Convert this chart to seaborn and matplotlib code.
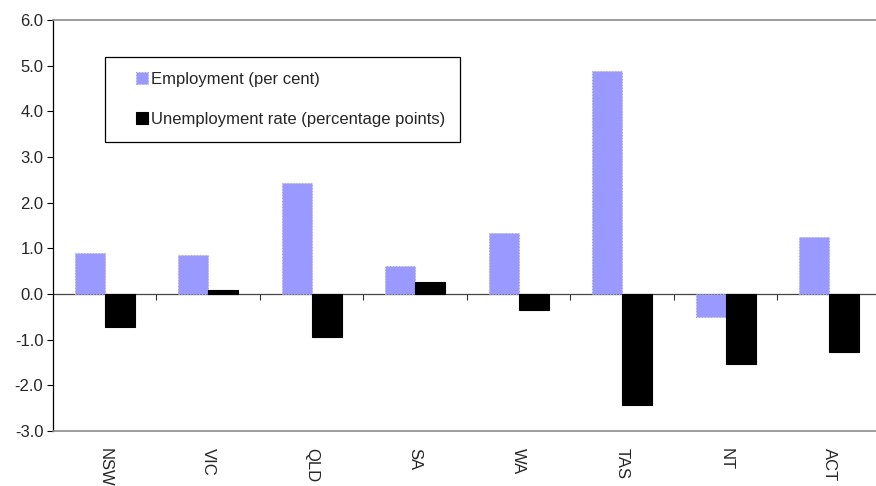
import numpy as np
import pandas as pd
import matplotlib
matplotlib.use('Agg')
import matplotlib.pyplot as plt
from matplotlib.patches import Rectangle
from matplotlib.legend_handler import HandlerPatch
import seaborn as sns


states = ['NSW', 'VIC', 'QLD', 'SA', 'WA', 'TAS', 'NT', 'ACT']
employment = [0.90, 0.85, 2.42, 0.61, 1.33, 4.89, -0.51, 1.24]
unemployment = [-0.73, 0.09, -0.94, 0.27, -0.36, -2.42, -1.54, -1.26]
series_names = ['Employment (per cent)', 'Unemployment rate (percentage points)']

df = pd.DataFrame({
    'state': states * 2,
    'value': employment + unemployment,
    'series': [series_names[0]] * len(states) + [series_names[1]] * len(states),
})

sns.set_style('white')
plt.rcParams['font.family'] = ['Liberation Sans', 'DejaVu Sans']

fig = plt.figure(figsize=(8.76, 4.86), dpi=100)
ax = fig.add_axes([0.0605, 0.1132, 0.9452, 0.8456])

colors = ['#9999ff', '#000000']
sns.barplot(data=df, x='state', y='value', hue='series', order=states,
            hue_order=series_names, palette=colors, width=0.58, gap=0,
            saturation=1, legend=False, ax=ax)

# employment bars get the dotted grey edge, unemployment plain black
n = len(states)
for i, bar in enumerate(ax.patches[:2 * n]):
    if i < n:
        bar.set_edgecolor('#b0b0b0')
        bar.set_linestyle(':')
        bar.set_linewidth(0.8)
    else:
        bar.set_edgecolor('black')
        bar.set_linewidth(0.8)

ax.set_xlim(-0.5, len(states) - 0.5)
ax.set_ylim(-3, 6)
ax.set_yticks(np.arange(-3, 7, 1))
ax.set_yticklabels([f'{v:.1f}' for v in np.arange(-3, 7, 1)])
ax.set_xlabel('')
ax.set_ylabel('')
ax.set_xticks(range(len(states)))
ax.set_xticklabels(states, rotation=270, va='top', ha='center')
ax.tick_params(axis='x', length=0, pad=12, labelsize=12)
ax.tick_params(axis='y', direction='out', length=4, width=0.8, pad=3,
               labelsize=12, left=True, color='black')

for side in ['top', 'bottom', 'right']:
    ax.spines[side].set_color('#8c8c8c')
    ax.spines[side].set_linewidth(1.2)
ax.spines['left'].set_color('black')
ax.spines['left'].set_linewidth(0.9)

# category axis crossing at zero with ticks between states
zero_frac = (0 - (-3)) / (6 - (-3))
sec = ax.secondary_xaxis(zero_frac)
sec.set_xticks(np.arange(0.5, len(states) - 0.5, 1))
sec.tick_params(axis='x', direction='out', length=4, width=0.8,
                labelbottom=False, color='#333333')
sec.spines['bottom'].set_color('#444444')
sec.spines['bottom'].set_linewidth(0.9)


def square_right(legend, orig_handle, xdescent, ydescent, width, height, fontsize):
    s = height * 1.05
    return Rectangle((-xdescent + width - s, -ydescent), s, s)


handles = [
    Rectangle((0, 0), 1, 1, facecolor=colors[0], edgecolor='#b0b0b0',
              linestyle=':', linewidth=0.8),
    Rectangle((0, 0), 1, 1, facecolor=colors[1], edgecolor='black', linewidth=0.8),
]
leg = ax.legend(handles, series_names, loc='upper left',
                bbox_to_anchor=(0.0628, 0.91), fontsize=12,
                handler_map={Rectangle: HandlerPatch(patch_func=square_right)},
                handlelength=1.7, handletextpad=0.15, borderpad=0.9,
                labelspacing=1.5, fancybox=False, framealpha=1,
                edgecolor='black', borderaxespad=0)
leg.get_frame().set_linewidth(0.9)

fig.savefig('out.png', dpi=100)
